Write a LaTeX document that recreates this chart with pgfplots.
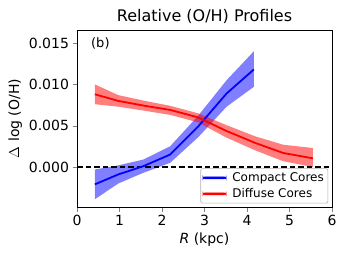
\documentclass[border=0pt]{standalone}
\usepackage{fontspec}
\setmainfont{DejaVu Sans}
\usepackage{pgfplots}
\pgfplotsset{compat=1.18}
\usepgfplotslibrary{fillbetween}
\begin{document}
\begin{tikzpicture}
\begin{axis}[
  scale only axis, width=255pt, height=177pt,
  xmin=0, xmax=6, ymin=-0.00484, ymax=0.01658,
  xtick={0,1,2,3,4,5,6},
  ytick={0,0.005,0.010,0.015},
  yticklabel style={/pgf/number format/.cd,fixed,fixed zerofill,precision=3},
  /pgf/number format/assume math mode=true,
  scaled y ticks=false,
  tick align=outside, tick pos=left,
  major tick length=4.5pt,
  tick label style={font=\fontsize{14}{16}\selectfont},
  label style={font=\fontsize{14}{16}\selectfont},
  title style={font=\fontsize{16}{18}\selectfont, yshift=-3pt},
  title={Relative (O/H) Profiles},
  xlabel={\textit{R} (kpc)},
  ylabel={$\Delta$ log (O/H)},
  ylabel style={font=\fontsize{14}{16}\selectfont},
  axis line style={black, line width=0.9pt},
  legend style={at={(0.985,0.02)}, anchor=south east, font=\fontsize{12}{14}\selectfont, draw=black!30, line width=0.6pt, rounded corners=2pt, cells={anchor=west}, row sep=1.5pt, column sep=4pt, inner sep=2pt, nodes={inner xsep=2pt}},
  legend cell align=left,
]
% blue band
\addplot[name path=bu, draw=none, forget plot] coordinates {(0.42,-0.0003) (0.97,0.0002) (1.56,0.0009) (2.19,0.0025) (2.85,0.0062) (3.52,0.0105) (4.16,0.0140)};
\addplot[name path=bl, draw=none, forget plot] coordinates {(0.42,-0.0039) (0.97,-0.0020) (1.56,-0.0007) (2.19,0.0005) (2.85,0.0036) (3.52,0.0073) (4.16,0.0097)};
\addplot[blue, fill opacity=0.5, forget plot] fill between[of=bu and bl];
% red band
\addplot[name path=ru, draw=none, forget plot] coordinates {(0.42,0.0100) (0.97,0.0087) (1.6,0.0080) (2.2,0.0074) (2.85,0.0065) (3.5,0.0051) (4.2,0.0037) (4.85,0.0027) (5.55,0.0023)};
\addplot[name path=rl, draw=none, forget plot] coordinates {(0.42,0.0076) (0.97,0.0073) (1.6,0.0068) (2.2,0.0063) (2.85,0.0054) (3.5,0.0036) (4.2,0.0020) (4.85,0.0007) (5.55,0.0000)};
\addplot[red, fill opacity=0.5, forget plot] fill between[of=ru and rl];
\addplot[black, line width=1.5pt, forget plot, dash pattern=on 5.5pt off 3pt] coordinates {(0,0) (6,0)};
\addplot[blue, line width=1.8pt, forget plot] coordinates {(0.42,-0.0021) (0.97,-0.0009) (1.56,0.0001) (2.19,0.0015) (2.85,0.0049) (3.52,0.0089) (4.16,0.0118)};
\addplot[red, line width=1.8pt, forget plot] coordinates {(0.42,0.0088) (0.97,0.0080) (1.6,0.0074) (2.2,0.0069) (2.85,0.0060) (3.5,0.0044) (4.2,0.0029) (4.85,0.0017) (5.55,0.00105)};
\addlegendimage{legend image code/.code={\fill[blue] (0pt,-1pt) rectangle (23pt,1pt);}}
\addlegendentry{Compact Cores}
\addlegendimage{legend image code/.code={\fill[red] (0pt,-1pt) rectangle (23pt,1pt);}}
\addlegendentry{Diffuse Cores}
\node[anchor=center, font=\fontsize{13}{15}\selectfont] at (axis cs:0.55,0.0150) {(b)};
\end{axis}
\path ([xshift=-77pt,yshift=-55pt]current axis.south west) rectangle ([xshift=17pt,yshift=30pt]current axis.north east);
\end{tikzpicture}
\end{document}
